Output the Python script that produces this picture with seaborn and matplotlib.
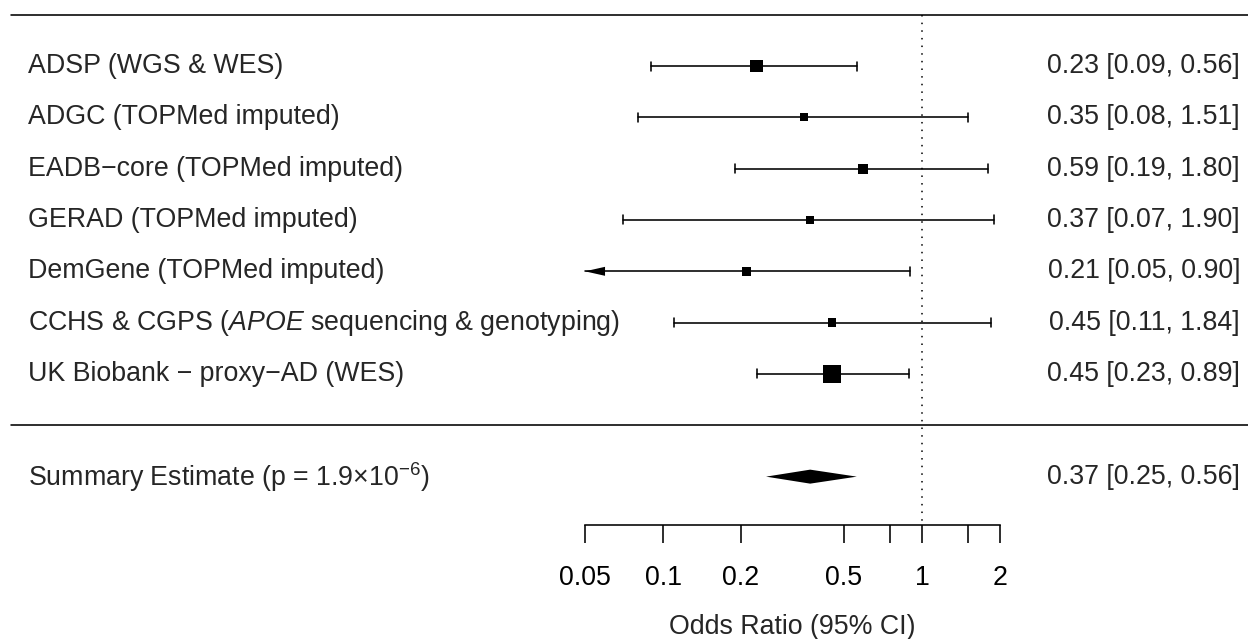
"""Forest plot of odds ratios per cohort with the summary estimate."""
import numpy as np
import pandas as pd
import seaborn as sns
from matplotlib import pyplot as plt

studies = ["ADSP (WGS & WES)", "ADGC (TOPMed imputed)",
           "EADB\u2212core (TOPMed imputed)", "GERAD (TOPMed imputed)",
           "DemGene (TOPMed imputed)",
           r"CCHS & CGPS ($\it{APOE}$ sequencing & genotyping)",
           "UK Biobank \u2212 proxy\u2212AD (WES)"]
odds = [0.23, 0.35, 0.59, 0.37, 0.21, 0.45, 0.45]
ci_low = [0.09, 0.08, 0.19, 0.07, 0.05, 0.11, 0.23]
ci_high = [0.56, 1.51, 1.80, 1.90, 0.90, 1.84, 0.89]

summary_label = "Summary Estimate (p = 1.9\u00d710$^{-6}$)"
summary_or, summary_low, summary_high = 0.37, 0.25, 0.56

ticks = [0.05, 0.1, 0.2, 0.5, 0.75, 1, 1.5, 2]
tick_labels = ["0.05", "0.1", "0.2", "0.5", "", "1", "", "2"]
alim = (0.05, 2)

# layout in pixels of the 1248x639 output
W, H = 1248, 639
PX_DEC = 259.0      # pixels per decade on the OR axis
PX_ONE = 922.0      # pixel column of OR = 1
ROW1 = 66.0
ROW_PX = 51.33
AXIS_PX = 525.0
FS = 19.3
LW = 1.15

sns.set_theme(style="white")
plt.rcParams["font.family"] = ["Liberation Sans", "DejaVu Sans"]
plt.rcParams["mathtext.fontset"] = "custom"
plt.rcParams["mathtext.rm"] = "Liberation Sans"
plt.rcParams["mathtext.it"] = "Liberation Sans:italic"

fig = plt.figure(figsize=(W / 100, H / 100), dpi=100)
ax = fig.add_axes([0, 0, 1, 1])
ax.set_xscale("log")

k = len(studies)
rows = np.arange(1, k + 1)
sum_row = k + 2

# weights from the CI widths (metafor-like psize in [0.5, 1.5])
se = (np.log(ci_high) - np.log(ci_low)) / (2 * 1.96)
wi = 1 / se ** 2
psize = (wi - wi.min()) / (wi.max() - wi.min()) + 0.5
side_pt = (2.5 + 10.5 * psize) * 0.72

df = pd.DataFrame({"study": studies, "odds": odds, "row": rows})
sns.scatterplot(data=df, x="odds", y="row", size="study",
                sizes=dict(zip(studies, side_pt ** 2)), marker="s",
                color="black", linewidth=0, legend=False, ax=ax, zorder=3)

cap = 4.5 / ROW_PX
for r, lo, hi in zip(rows, ci_low, ci_high):
    x0, x1 = max(lo, alim[0]), min(hi, alim[1])
    ax.plot([x0, x1], [r, r], color="black", lw=LW)
    if lo > alim[0]:
        ax.plot([lo, lo], [r - cap, r + cap], color="black", lw=LW)
    else:
        tip = alim[0] * 10 ** (20 / PX_DEC)
        ax.fill([alim[0], tip, tip], [r, r - cap, r + cap], color="black", lw=0)
    if hi < alim[1]:
        ax.plot([hi, hi], [r - cap, r + cap], color="black", lw=LW)
    else:
        tip = alim[1] / 10 ** (20 / PX_DEC)
        ax.fill([alim[1], tip, tip], [r, r - cap, r + cap], color="black", lw=0)

dh = 7 / ROW_PX
ax.fill([summary_low, summary_or, summary_high, summary_or],
        [sum_row, sum_row - dh, sum_row, sum_row + dh], color="black", lw=0)

y_axis = 1 + (AXIS_PX - ROW1) / ROW_PX
ax.plot([1, 1], [0, y_axis], color="black", lw=1.1, linestyle=(0, (1, 4)))
ax.axhline(0, xmin=11 / W, color="black", lw=LW)
ax.axhline(k + 1, xmin=11 / W, color="black", lw=LW)

tr = ax.get_yaxis_transform()
for r, name, o, lo, hi in zip(rows, studies, odds, ci_low, ci_high):
    ax.text(28 / W, r, name, transform=tr, ha="left", va="center", fontsize=FS)
    ax.text(1240 / W, r, f"{o:.2f} [{lo:.2f}, {hi:.2f}]", transform=tr,
            ha="right", va="center", fontsize=FS)
ax.text(28 / W, sum_row, summary_label, transform=tr, ha="left",
        va="center", fontsize=FS)
ax.text(1240 / W, sum_row,
        f"{summary_or:.2f} [{summary_low:.2f}, {summary_high:.2f}]",
        transform=tr, ha="right", va="center", fontsize=FS)

ax.set_xlim(10 ** (-PX_ONE / PX_DEC), 10 ** ((W - PX_ONE) / PX_DEC))
ax.set_ylim(1 + (H - ROW1) / ROW_PX, 1 - ROW1 / ROW_PX)
ax.axis("off")

# the OR axis
x_lo = PX_ONE + PX_DEC * np.log10(alim[0])
x_hi = PX_ONE + PX_DEC * np.log10(alim[1])
ax2 = fig.add_axes([x_lo / W, (H - AXIS_PX) / H, (x_hi - x_lo) / W, 0.001])
ax2.set_xscale("log")
ax2.set_xlim(*alim)
ax2.patch.set_visible(False)
for s in ["top", "left", "right"]:
    ax2.spines[s].set_visible(False)
ax2.spines["bottom"].set_linewidth(LW)
ax2.spines["bottom"].set_color("black")
ax2.set_yticks([])
ax2.set_xticks(ticks)
ax2.set_xticklabels(tick_labels)
ax2.minorticks_off()
ax2.tick_params(axis="x", direction="out", length=13, width=LW, pad=16,
                labelsize=FS, colors="black", bottom=True)
ax2.set_xlabel("Odds Ratio (95% CI)", fontsize=FS, labelpad=16)

plt.savefig("out.png", dpi=100)
